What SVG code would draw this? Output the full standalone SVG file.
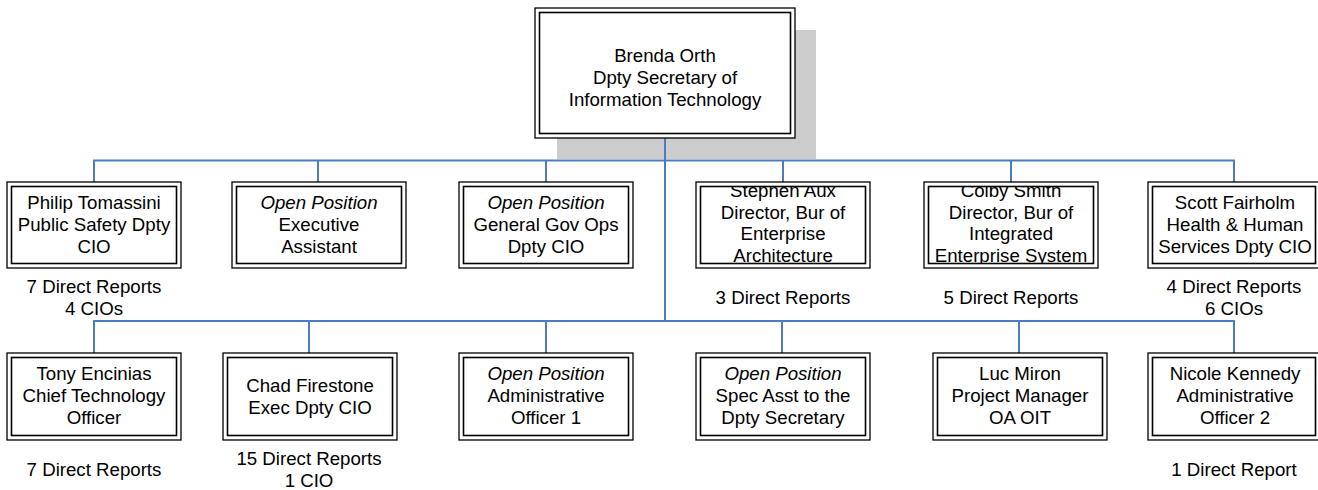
<svg xmlns="http://www.w3.org/2000/svg" width="1318" height="490" viewBox="0 0 1318 490">
  <style>
    .outer { fill: #ffffff; stroke: #000000; stroke-width: 1.3; }
    .inner { fill: none; stroke: #000000; stroke-width: 1.6; }
    .shadow { fill: #cccccc; }
    .conn { fill: none; stroke: #4a7ebf; stroke-width: 2; }
    text { font-family: "Liberation Sans", Arial, sans-serif; font-size: 18.67px; fill: #000000; text-anchor: middle; }
    .it { font-style: italic; }
  </style>
  <defs>
    <clipPath id="clipAux"><rect x="701" y="187" width="164" height="76"/></clipPath>
    <clipPath id="clipSmith"><rect x="929" y="187" width="164" height="76"/></clipPath>
  </defs>

  <!-- drop shadow behind the head box -->
  <rect class="shadow" x="557" y="30" width="259" height="129"/>

  <!-- connectors -->
  <g id="connectors">
    <line class="conn" x1="665" y1="138" x2="665" y2="321"/>
    <polyline class="conn" points="94,182 94,160.5 1234,160.5 1234,182"/>
    <line class="conn" x1="318" y1="160.5" x2="318" y2="182"/>
    <line class="conn" x1="546" y1="160.5" x2="546" y2="182"/>
    <line class="conn" x1="783" y1="160.5" x2="783" y2="182"/>
    <line class="conn" x1="1011" y1="160.5" x2="1011" y2="182"/>
    <polyline class="conn" points="94,353 94,321 1234,321 1234,353"/>
    <line class="conn" x1="309" y1="321" x2="309" y2="353"/>
    <line class="conn" x1="546" y1="321" x2="546" y2="353"/>
    <line class="conn" x1="782" y1="321" x2="782" y2="353"/>
    <line class="conn" x1="1019" y1="321" x2="1019" y2="353"/>
  </g>

  <!-- head -->
  <g id="orth">
    <rect class="outer" x="535" y="8" width="260" height="130"/>
    <rect class="inner" x="539.5" y="12.5" width="251" height="121"/>
    <text x="665" y="62">Brenda Orth</text>
    <text x="665" y="84">Dpty Secretary of</text>
    <text x="665" y="106">Information Technology</text>
  </g>

  <!-- first row -->
  <g id="tomassini">
    <rect class="outer" x="7" y="182" width="174" height="86"/>
    <rect class="inner" x="11.5" y="186.5" width="165" height="77"/>
    <text x="94" y="209">Philip Tomassini</text>
    <text x="94" y="231">Public Safety Dpty</text>
    <text x="94" y="253">CIO</text>
    <text x="94" y="293">7 Direct Reports</text>
    <text x="94" y="315">4 CIOs</text>
  </g>
  <g id="exec-assistant">
    <rect class="outer" x="232" y="182" width="174" height="86"/>
    <rect class="inner" x="236.5" y="186.5" width="165" height="77"/>
    <text class="it" x="319" y="209">Open Position</text>
    <text x="319" y="231">Executive</text>
    <text x="319" y="253">Assistant</text>
  </g>
  <g id="gen-gov-ops">
    <rect class="outer" x="459" y="182" width="174" height="86"/>
    <rect class="inner" x="463.5" y="186.5" width="165" height="77"/>
    <text class="it" x="546" y="209">Open Position</text>
    <text x="546" y="231">General Gov Ops</text>
    <text x="546" y="253">Dpty CIO</text>
  </g>
  <g id="aux">
    <rect class="outer" x="696" y="182" width="174" height="86"/>
    <g clip-path="url(#clipAux)">
      <text x="783" y="197">Stephen Aux</text>
      <text x="783" y="218.5">Director, Bur of</text>
      <text x="783" y="240">Enterprise</text>
      <text x="783" y="261.5">Architecture</text>
    </g>
    <rect class="inner" x="700.5" y="186.5" width="165" height="77"/>
    <text x="783" y="304">3 Direct Reports</text>
  </g>
  <g id="smith">
    <rect class="outer" x="924" y="182" width="174" height="86"/>
    <g clip-path="url(#clipSmith)">
      <text x="1011" y="197">Colby Smith</text>
      <text x="1011" y="218.5">Director, Bur of</text>
      <text x="1011" y="240">Integrated</text>
      <text x="1011" y="261.5">Enterprise System</text>
    </g>
    <rect class="inner" x="928.5" y="186.5" width="165" height="77"/>
    <text x="1011" y="304">5 Direct Reports</text>
  </g>
  <g id="fairholm">
    <rect class="outer" x="1148" y="182" width="172" height="86"/>
    <rect class="inner" x="1152.5" y="186.5" width="163" height="77"/>
    <text x="1235" y="209">Scott Fairholm</text>
    <text x="1235" y="231">Health &amp; Human</text>
    <text x="1235" y="253">Services Dpty CIO</text>
    <text x="1234" y="293">4 Direct Reports</text>
    <text x="1234" y="315">6 CIOs</text>
  </g>

  <!-- second row -->
  <g id="encinias">
    <rect class="outer" x="7" y="353" width="174" height="87"/>
    <rect class="inner" x="11.5" y="357.5" width="165" height="78"/>
    <text x="94" y="380">Tony Encinias</text>
    <text x="94" y="402">Chief Technology</text>
    <text x="94" y="424">Officer</text>
    <text x="94" y="476">7 Direct Reports</text>
  </g>
  <g id="firestone">
    <rect class="outer" x="223" y="353" width="174" height="87"/>
    <rect class="inner" x="227.5" y="357.5" width="165" height="78"/>
    <text x="310" y="392">Chad Firestone</text>
    <text x="310" y="414">Exec Dpty CIO</text>
    <text x="309" y="465">15 Direct Reports</text>
    <text x="309" y="487">1 CIO</text>
  </g>
  <g id="admin-officer-1">
    <rect class="outer" x="459" y="353" width="174" height="87"/>
    <rect class="inner" x="463.5" y="357.5" width="165" height="78"/>
    <text class="it" x="546" y="380">Open Position</text>
    <text x="546" y="402">Administrative</text>
    <text x="546" y="424">Officer 1</text>
  </g>
  <g id="spec-asst">
    <rect class="outer" x="696" y="353" width="174" height="87"/>
    <rect class="inner" x="700.5" y="357.5" width="165" height="78"/>
    <text class="it" x="783" y="380">Open Position</text>
    <text x="783" y="402">Spec Asst to the</text>
    <text x="783" y="424">Dpty Secretary</text>
  </g>
  <g id="miron">
    <rect class="outer" x="933" y="353" width="174" height="87"/>
    <rect class="inner" x="937.5" y="357.5" width="165" height="78"/>
    <text x="1020" y="380">Luc Miron</text>
    <text x="1020" y="402">Project Manager</text>
    <text x="1020" y="424">OA OIT</text>
  </g>
  <g id="kennedy">
    <rect class="outer" x="1148" y="353" width="172" height="87"/>
    <rect class="inner" x="1152.5" y="357.5" width="163" height="78"/>
    <text x="1235" y="380">Nicole Kennedy</text>
    <text x="1235" y="402">Administrative</text>
    <text x="1235" y="424">Officer 2</text>
    <text x="1234" y="476">1 Direct Report</text>
  </g>
</svg>
